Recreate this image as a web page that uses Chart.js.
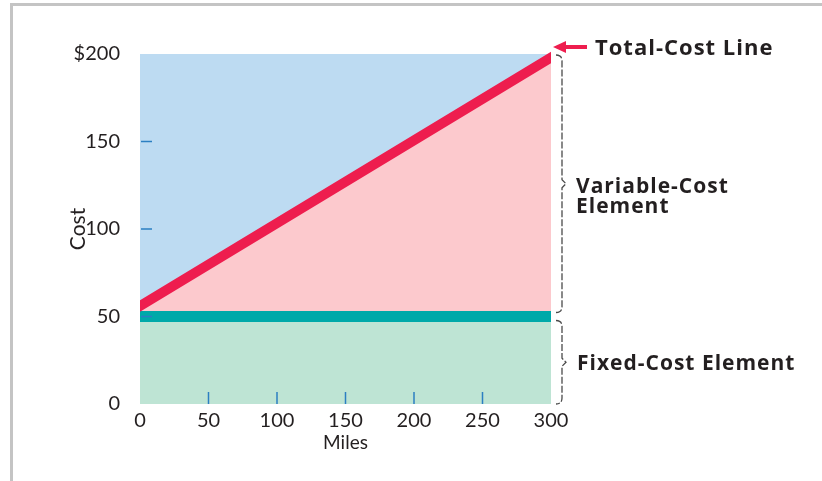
<!DOCTYPE html>
<html>
<head>
<meta charset="utf-8">
<script src="https://cdn.jsdelivr.net/npm/chart.js@4"></script>
<style>
  body { margin: 0; background: #fff; }
  #wrap { position: relative; width: 822px; height: 481px; }
  #frame { position: absolute; left: 10px; top: 3px; right: 0; bottom: 0;
    border-top: 3px solid #c4c4c4; border-left: 3px solid #c4c4c4; }
  #chart { position: absolute; left: 0; top: 0; }
</style>
</head>
<body>
<div id="wrap">
  <div id="frame"></div>
  <canvas id="chart" width="822" height="481"></canvas>
</div>
<script>
'use strict';

// data
var miles = [0, 300];
var fixedCost = [50, 50];
var totalCost = [56, 198];
var costTop = [200, 200];
var xTicks = [0, 50, 100, 150, 200, 250, 300];
var yTicks = [0, 50, 100, 150, 200];

var textColor = '#231f20';
var tickBlue = '#2b7fc2';
var red = '#ee1d4e';
var fontFamily = 'Lato, "Open Sans", sans-serif';
var boldFamily = '"Open Sans", Lato, sans-serif';

var toPoints = function(xs, ys) {
  return xs.map(function(x, i) { return {x: x, y: ys[i]}; });
};

var brace = function(ctx, xx, top, bottom) {
  var mid = (top + bottom) / 2;
  ctx.beginPath();
  ctx.moveTo(xx - 6, top);
  ctx.quadraticCurveTo(xx, top, xx, top + 6);
  ctx.lineTo(xx, mid - 4);
  ctx.lineTo(xx + 4, mid);
  ctx.lineTo(xx, mid + 4);
  ctx.lineTo(xx, bottom - 6);
  ctx.quadraticCurveTo(xx, bottom, xx - 6, bottom);
  ctx.stroke();
};

var overlay = {
  id: 'overlay',
  afterDatasetsDraw: function(chart) {
    var ctx = chart.ctx;
    var x = chart.scales.x;
    var y = chart.scales.y;
    var a = chart.chartArea;
    ctx.save();
    // inside tick marks
    ctx.strokeStyle = tickBlue;
    ctx.lineWidth = 1.5;
    xTicks.slice(1, -1).forEach(function(v) {
      var px = x.getPixelForValue(v);
      ctx.beginPath();
      ctx.moveTo(px, a.bottom);
      ctx.lineTo(px, a.bottom - 12);
      ctx.stroke();
    });
    yTicks.slice(1, -1).forEach(function(v) {
      var py = y.getPixelForValue(v);
      ctx.beginPath();
      ctx.moveTo(a.left + 1, py);
      ctx.lineTo(a.left + 12, py);
      ctx.stroke();
    });
    ctx.restore();
  },
  afterDraw: function(chart) {
    var ctx = chart.ctx;
    var y = chart.scales.y;
    var a = chart.chartArea;
    var bx = a.right + 11;
    ctx.save();
    // braces
    ctx.strokeStyle = '#4a4a4a';
    ctx.lineWidth = 1.3;
    ctx.setLineDash([7, 2]);
    brace(ctx, bx, y.getPixelForValue(200) + 1, y.getPixelForValue(50) - 4);
    brace(ctx, bx, y.getPixelForValue(50) + 4, y.getPixelForValue(0));
    ctx.setLineDash([]);

    // arrow to the total-cost line
    var ay = y.getPixelForValue(200) - 7;
    ctx.fillStyle = red;
    ctx.fillRect(a.right + 12, ay - 2, 24, 4);
    ctx.beginPath();
    ctx.moveTo(a.right + 2, ay);
    ctx.lineTo(a.right + 15, ay - 6);
    ctx.lineTo(a.right + 15, ay + 6);
    ctx.closePath();
    ctx.fill();

    // labels
    ctx.fillStyle = textColor;
    ctx.textAlign = 'left';
    ctx.textBaseline = 'alphabetic';
    ctx.letterSpacing = '1px';
    ctx.font = 'bold 22px ' + boldFamily;
    ctx.fillText('Total-Cost Line', a.right + 44, 55);
    ctx.font = 'bold 21px ' + boldFamily;
    ctx.fillText('Variable-Cost', bx + 14, 193);
    ctx.fillText('Element', bx + 14, 213);
    ctx.fillText('Fixed-Cost Element', bx + 15, 370);
    ctx.restore();
  }
};

var ctx = document.getElementById('chart').getContext('2d');

new Chart(ctx, {
  type: 'line',
  data: {
    datasets: [{
      label: 'Fixed cost',
      data: toPoints(miles, fixedCost),
      borderColor: '#00a9a9',
      borderWidth: 11,
      backgroundColor: '#bee4d4',
      fill: 'origin',
      pointRadius: 0,
      clip: {left: 0, right: 0, top: 8, bottom: 8},
      order: 2,
    }, {
      label: 'Total cost',
      data: toPoints(miles, totalCost),
      borderColor: red,
      borderWidth: 10,
      borderCapStyle: 'square',
      backgroundColor: '#fcc9cd',
      fill: 0,
      pointRadius: 0,
      clip: {left: 0, right: 0, top: 8, bottom: 8},
      order: 1,
    }, {
      label: 'Top',
      data: toPoints(miles, costTop),
      borderWidth: 0,
      borderColor: 'rgba(0,0,0,0)',
      backgroundColor: '#bddbf2',
      fill: 1,
      pointRadius: 0,
      order: 3,
    }],
  },
  options: {
    responsive: false,
    devicePixelRatio: 1,
    animation: false,
    layout: {
      padding: {top: 54, right: 271, left: 0, bottom: 0},
    },
    plugins: {
      legend: {display: false},
      tooltip: {enabled: false},
      filler: {drawTime: 'beforeDatasetsDraw'},
    },
    scales: {
      x: {
        type: 'linear',
        min: 0,
        max: 300,
        afterBuildTicks: function(s) { s.ticks = xTicks.map(function(v) { return {value: v}; }); },
        afterFit: function(s) { s.height = 77; },
        grid: {display: false},
        border: {display: false},
        ticks: {
          color: textColor,
          font: {family: fontFamily, size: 20},
          padding: -3,
          maxRotation: 0,
          autoSkip: false,
        },
        title: {
          display: true,
          text: 'Miles',
          color: textColor,
          font: {family: fontFamily, size: 19},
          padding: {top: 0, bottom: 27},
        },
      },
      y: {
        min: 0,
        max: 200,
        afterBuildTicks: function(s) { s.ticks = yTicks.map(function(v) { return {value: v}; }); },
        afterFit: function(s) { s.width = 140; },
        grid: {display: false},
        border: {display: false},
        ticks: {
          color: textColor,
          font: {family: fontFamily, size: 20},
          padding: 12,
          callback: function(v) { return v === 200 ? '$' + v : v; },
        },
        title: {
          display: true,
          text: 'Cost',
          color: textColor,
          font: {family: fontFamily, size: 21},
          padding: {top: 66, bottom: 0},
        },
      },
    },
  },
  plugins: [overlay],
});
</script>
</body>
</html>
